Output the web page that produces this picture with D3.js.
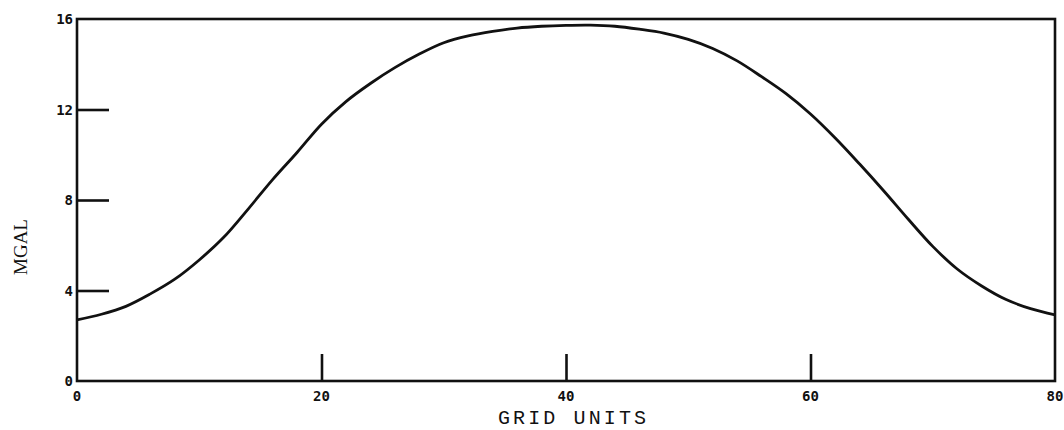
<!DOCTYPE html>
<html>
<head>
<meta charset="utf-8">
<script src="https://cdn.jsdelivr.net/npm/d3@7"></script>
<style>
  html, body { margin: 0; padding: 0; background: #fff; }
  svg { display: block; }
</style>
</head>
<body>
<svg id="chart" width="1064" height="430"></svg>
<script>
// Data
const gridUnits = [0,2,4,6,8,10,12,14,16,18,20,22,24,26,28,30,32,34,36,38,40,
                   42,44,46,48,50,52,54,56,58,60,62,64,66,68,70,72,74,76,78,80];
const mgal = [2.70,2.95,3.30,3.85,4.50,5.35,6.35,7.60,8.90,10.10,11.35,12.35,13.15,13.85,14.45,14.95,15.25,15.45,15.60,15.68,15.72,
              15.73,15.68,15.55,15.38,15.10,14.70,14.15,13.45,12.70,11.80,10.75,9.60,8.40,7.15,5.95,4.95,4.20,3.60,3.20,2.92];
const xTicks = [0,20,40,60,80];
const yTicks = [0,4,8,12,16];
const xTitle = "GRID UNITS";
const yTitle = "MGAL";

(function () {
const svg = d3.select("#chart");
const mLeft = 77, mRight = 1055, mTop = 19, mBottom = 381;

const x = d3.scaleLinear().domain([0,80]).range([mLeft,mRight]);
const y = d3.scaleLinear().domain([0,16]).range([mBottom,mTop]);

const ink = "#111";

// Frame
svg.append("rect")
  .attr("x", mLeft).attr("y", mTop)
  .attr("width", mRight-mLeft).attr("height", mBottom-mTop)
  .attr("fill", "none").attr("stroke", ink).attr("stroke-width", 2.6);

// Y axis ticks (inward), labels left
const yAxis = d3.axisRight(y).tickValues(yTicks).tickSize(32).tickFormat("");
const gy = svg.append("g").attr("transform", `translate(${mLeft},0)`).call(yAxis);
gy.select(".domain").remove();
gy.selectAll(".tick line").attr("stroke", ink).attr("stroke-width", 2.6)
  .filter(d => d === 0 || d === 16).remove();

svg.append("g").selectAll("text").data(yTicks).join("text")
  .attr("x", mLeft - 4).attr("y", d => y(d))
  .attr("dy", "0.36em")
  .attr("text-anchor", "end")
  .attr("font-family", "DejaVu Sans Mono")
  .attr("font-weight", "bold")
  .attr("font-size", 14)
  .attr("fill", ink)
  .text(d => d);

// X axis ticks (inward, upward), labels below
const xAxis = d3.axisTop(x).tickValues(xTicks).tickSize(27).tickFormat("");
const gx = svg.append("g").attr("transform", `translate(0,${mBottom})`).call(xAxis);
gx.select(".domain").remove();
gx.selectAll(".tick line").attr("stroke", ink).attr("stroke-width", 2.6)
  .filter(d => d === 0 || d === 80).remove();

svg.append("g").selectAll("text").data(xTicks).join("text")
  .attr("x", d => x(d)).attr("y", mBottom + 20)
  .attr("text-anchor", "middle")
  .attr("font-family", "DejaVu Sans Mono")
  .attr("font-weight", "bold")
  .attr("font-size", 14)
  .attr("fill", ink)
  .text(d => d);

// Curve
const line = d3.line()
  .x((d,i) => x(gridUnits[i]))
  .y(d => y(d))
  .curve(d3.curveCatmullRom.alpha(0.5));

svg.append("path")
  .datum(mgal)
  .attr("d", line)
  .attr("fill", "none")
  .attr("stroke", ink)
  .attr("stroke-width", 2.8)
  .attr("stroke-linejoin", "round");

// Axis titles
svg.append("text")
  .attr("x", 572).attr("y", 424)
  .attr("text-anchor", "middle")
  .attr("font-family", "Liberation Mono")
  .attr("font-size", 20)
  .attr("textLength", 148)
  .attr("fill", ink)
  .text(xTitle);

svg.append("text")
  .attr("transform", "translate(27,247) rotate(-90)")
  .attr("text-anchor", "middle")
  .attr("font-family", "Liberation Serif")
  .attr("font-size", 19)
  .attr("fill", ink)
  .text(yTitle);
})();
</script>
</body>
</html>
